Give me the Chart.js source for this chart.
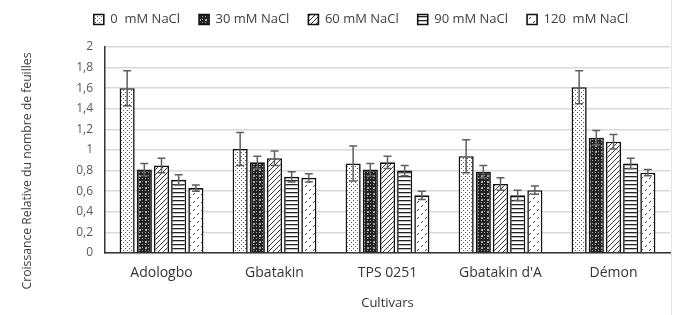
<!DOCTYPE html>
<html>
<head>
<meta charset="utf-8">
<script src="https://cdn.jsdelivr.net/npm/chart.js@4.4.0/dist/chart.umd.min.js"></script>
<style>
  html,body{margin:0;padding:0;background:#fff;}
  #wrap{width:696px;height:315px;position:relative;}
  #wrap::after{content:"";position:absolute;left:671px;top:0;width:1px;height:315px;background:#e4e4e4;}
</style>
</head>
<body>
<div id="wrap"><canvas id="c" width="696" height="315"></canvas></div>
<script>
// Data
const cultivars = ["Adologbo", "Gbatakin", "TPS 0251", "Gbatakin d'A", "Démon"];
const seriesNames = ["0  mM NaCl", "30 mM NaCl", "60 mM NaCl", "90 mM NaCl", "120  mM NaCl"];

const nacl0   = [1.60, 1.01, 0.87, 0.94, 1.61];
const nacl30  = [0.81, 0.88, 0.81, 0.79, 1.12];
const nacl60  = [0.85, 0.92, 0.88, 0.67, 1.08];
const nacl90  = [0.71, 0.74, 0.80, 0.56, 0.87];
const nacl120 = [0.63, 0.73, 0.56, 0.61, 0.78];

const err0   = [0.17, 0.16, 0.17, 0.16, 0.16];
const err30  = [0.06, 0.06, 0.06, 0.06, 0.07];
const err60  = [0.07, 0.07, 0.06, 0.06, 0.07];
const err90  = [0.05, 0.05, 0.05, 0.05, 0.05];
const err120 = [0.03, 0.04, 0.04, 0.04, 0.03];

const yTickLabels = ["0", "0,2", "0,4", "0,6", "0,8", "1", "1,2", "1,4", "1,6", "1,8", "2"];

const yTitle = "Croissance Relative du nombre de feuilles";
const xTitle = "Cultivars";

// Fill patterns
function makePattern(size, draw){
  const c = document.createElement("canvas");
  c.width = size; c.height = size;
  const g = c.getContext("2d");
  draw(g, size);
  return document.getElementById("c").getContext("2d").createPattern(c, "repeat");
}

const patDots = makePattern(4, (g)=>{
  g.fillStyle = "#fff"; g.fillRect(0,0,4,4);
  g.fillStyle = "#555";
  g.fillRect(1,0,1,1);
  g.fillRect(3,2,1,1);
});
const patDark = makePattern(6, (g)=>{
  g.fillStyle = "#222"; g.fillRect(0,0,6,6);
  g.fillStyle = "#a8a8a8";
  g.fillRect(1,1,2,2);
  g.fillRect(4,4,1,1);
  g.fillRect(4,1,1,1);
  g.fillRect(1,4,1,1);
});
const patDiag = makePattern(5, (g)=>{
  g.fillStyle = "#fff"; g.fillRect(0,0,5,5);
  g.strokeStyle = "#333"; g.lineWidth = 1;
  g.beginPath();
  g.moveTo(-1,6); g.lineTo(6,-1);
  g.moveTo(-1,1); g.lineTo(1,-1);
  g.moveTo(4,6); g.lineTo(6,4);
  g.stroke();
});
const patHoriz = makePattern(4, (g)=>{
  g.fillStyle = "#fff"; g.fillRect(0,0,4,4);
  g.fillStyle = "#222";
  g.fillRect(0,0,4,1.3);
});
const patDash = makePattern(8, (g)=>{
  g.fillStyle = "#fff"; g.fillRect(0,0,8,8);
  g.strokeStyle = "#444"; g.lineWidth = 1;
  g.beginPath();
  g.moveTo(1,3); g.lineTo(3,1);
  g.moveTo(5,7); g.lineTo(7,5);
  g.stroke();
});

const seriesVals = [nacl0, nacl30, nacl60, nacl90, nacl120];
const seriesErr = [err0, err30, err60, err90, err120];
const seriesFill = [patDots, patDark, patDiag, patHoriz, patDash];

const datasets = seriesNames.map((n,i)=>({
  label: n,
  data: seriesVals[i],
  errors: seriesErr[i],
  backgroundColor: seriesFill[i],
  borderColor: "#111",
  borderWidth: 1.6,
  categoryPercentage: 0.76,
  barPercentage: 0.88
}));

// error bars drawn on the y scale
const errorBars = {
  id: "errorBars",
  afterDatasetsDraw(chart){
    const ctx = chart.ctx;
    const y = chart.scales.y;
    ctx.save();
    ctx.strokeStyle = "#5f5f5f";
    ctx.lineWidth = 1.5;
    chart.data.datasets.forEach((ds, di)=>{
      const meta = chart.getDatasetMeta(di);
      meta.data.forEach((bar, i)=>{
        const v = ds.data[i], e = ds.errors[i];
        const top = y.getPixelForValue(v + e);
        const bot = y.getPixelForValue(v - e);
        const x = bar.x;
        ctx.beginPath();
        ctx.moveTo(x, top); ctx.lineTo(x, bot);
        ctx.moveTo(x-4, top); ctx.lineTo(x+4, top);
        ctx.moveTo(x-4, bot); ctx.lineTo(x+4, bot);
        ctx.stroke();
      });
    });
    ctx.restore();
  }
};

// rotated y title, placed like the original (runs below the plot)
const yTitlePlugin = {
  id: "yTitlePlugin",
  afterDraw(chart){
    const ctx = chart.ctx;
    ctx.save();
    ctx.translate(28, 171);
    ctx.rotate(-Math.PI/2);
    ctx.font = "12px 'Open Sans'";
    ctx.fillStyle = "#404040";
    ctx.textAlign = "center";
    ctx.textBaseline = "middle";
    const w = ctx.measureText(yTitle).width;
    const target = 237;
    ctx.scale(target / w, 1);
    ctx.fillText(yTitle, 0, 0);
    ctx.restore();
  }
};

// legend: reserve room above the plot, then nudge it to where the original sits
const legendPlace = {
  id: "legendPlace",
  beforeInit(chart){
    const fit = chart.legend.fit;
    chart.legend.fit = function(){
      fit.call(this);
      this.height = 47;
    };
  },
  afterLayout(chart){
    const lg = chart.legend;
    lg.left += 26; lg.right += 26;
    lg.top -= 6; lg.bottom -= 6;
  }
};

new Chart(document.getElementById("c"), {
  type: "bar",
  data: { labels: cultivars, datasets },
  plugins: [errorBars, yTitlePlugin, legendPlace],
  options: {
    responsive: false,
    animation: false,
    layout: { padding: { left: 0, right: 26, top: 0, bottom: 0 } },
    plugins: {
      legend: {
        position: "top",
        labels: {
          boxWidth: 10,
          boxHeight: 10,
          padding: 19,
          color: "#404040",
          font: { family: "'Open Sans'", size: 13 }
        }
      },
      tooltip: { enabled: false }
    },
    scales: {
      x: {
        grid: { display: false },
        border: { color: "#333", width: 1.5 },
        ticks: { color: "#333", font: { family: "'Open Sans'", size: 14 }, padding: 4 },
        title: { display: true, text: xTitle, color: "#333", font: { family: "'Open Sans'", size: 13 }, padding: { top: 6, bottom: 4 } },
        afterFit(s){ s.height = 62; }
      },
      y: {
        min: 0, max: 2,
        ticks: {
          stepSize: 0.2,
          color: "#595959",
          font: { family: "'Open Sans'", size: 12 },
          padding: 12,
          callback: (v, i) => yTickLabels[i]
        },
        grid: { color: "#d9d9d9", lineWidth: 1.5, drawTicks: false },
        border: { color: "#333", width: 1.5 },
        afterFit(s){ s.width = 105; }
      }
    }
  }
});
</script>
</body>
</html>
